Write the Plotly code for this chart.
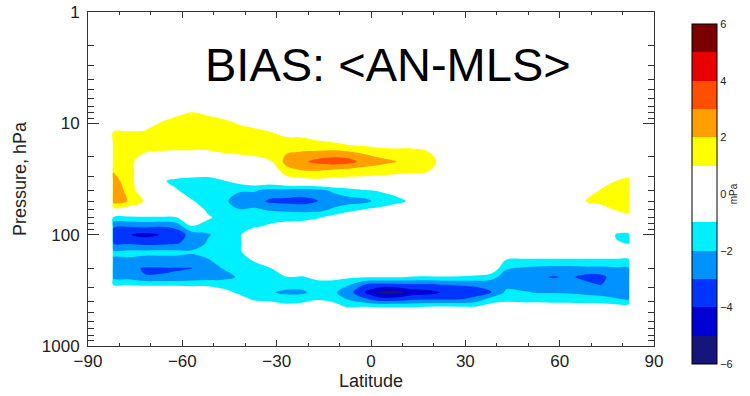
import numpy as np
import plotly.graph_objects as go

# ---------------- data ----------------
latitudes = [-82, -77, -72, -67, -62, -57, -52, -47, -42, -37, -32, -27, -22, -17, -12, -7,
             -2, 3, 8, 13, 18, 23, 28, 33, 38, 43, 48, 53, 58, 63, 68, 73, 78, 82]
pressures = [6, 7, 8, 10, 12, 15, 18, 22, 27, 33, 40, 50, 60, 70, 85, 100, 120, 140, 170,
             200, 240, 280, 330, 380, 440, 500]

# one vertical profile (mPa) per latitude, from 6 hPa down to 500 hPa
bias_profiles = [
    [0, 0, 0, 0, 1.1, 1.5, 1.5, 1.6, 1.95, 2.4, 2.6, 2.4, 0.5, -1.1, -2.9, -3.6, -3.0, -1.9, -2.05, -2.6, -2.3, -1.1, 0, 0, 0, 0],
    [0, 0, 0, 0, 1.1, 1.5, 1.5, 1.5, 1.5, 1.5, 1.7, 1.95, 0.3, -1.2, -3.0, -3.95, -3.1, -1.9, -2.05, -2.7, -2.4, -1.1, 0, 0, 0, 0],
    [0, 0, 0, 0.2, 1.2, 1.5, 1.1, 0, 0, 0, 0, 0.9, 0, -1.1, -2.9, -4.3, -3.3, -1.9, -2.1, -3.1, -2.95, -1.2, 0, 0, 0, 0],
    [0, 0, 0, 1.1, 1.5, 1.5, 0.95, 0, 0, -0.8, 0, 0, 0, -1.1, -3.0, -3.98, -3.2, -1.9, -2.1, -3.1, -2.95, -1.2, 0, 0, 0, 0],
    [0, 0, 0.7, 1.5, 1.5, 1.5, 0.9, 0, 0, -1.3, -0.9, 0, 0, -1.05, -2.7, -3.8, -3.1, -1.9, -2.1, -3.05, -2.9, -1.2, 0, 0, 0, 0],
    [0, 0, 1.05, 1.5, 1.5, 1.5, 0.9, 0, -0.3, -1.4, -1.5, -0.9, 0, 0, -1.1, -2.5, -2.6, -1.95, -2.1, -3.02, -2.6, -1.3, 0, 0, 0, 0],
    [0, 0, 0.8, 1.5, 1.5, 1.5, 0.9, 0, -0.3, -1.5, -1.5, -1.5, -1.2, -0.8, -1.5, -2.1, -1.9, -1.6, -2.1, -2.6, -2.5, -1.3, 0, 0, 0, 0],
    [0, 0, 0.4, 1.4, 1.5, 1.5, 1.1, 0, 0, -1.1, -1.6, -1.8, -1.5, -1.5, -1.5, -1.6, -1.5, -1.5, -1.6, -1.95, -2.3, -1.5, -0.6, 0, 0, 0],
    [0, 0, 0, 0.9, 1.5, 1.5, 1.3, 0.2, 0, -0.6, -1.9, -2.4, -1.95, -1.5, -1.4, -1.2, -1.2, -1.2, -1.4, -1.8, -1.9, -1.5, -1.2, -0.5, 0, 0],
    [0, 0, 0, 0.5, 1.4, 1.5, 1.4, 0.5, 0, -0.2, -1.9, -2.6, -1.8, -1.2, -1.05, 0, 0, 0, -0.9, -1.4, -1.5, -1.6, -1.7, -1.2, 0, 0],
    [0, 0, 0, 0.2, 1.05, 1.5, 1.6, 0.9, 0, -0.2, -2.3, -3.2, -2.1, -1.2, -0.9, 0, 0, 0, 0, -1.05, -1.5, -1.8, -1.9, -1.3, -0.4, 0],
    [0, 0, 0, 0, 0.6, 1.5, 1.9, 2.3, 1.6, 0.3, -2.3, -3.3, -2.2, -1.4, -0.5, 0, 0, 0, 0, 0, -1.05, -1.6, -2.2, -1.5, -0.7, 0],
    [0, 0, 0, 0, 0.5, 1.5, 2.02, 2.8, 1.9, 0.6, -2.4, -3.4, -2.3, -1.3, -0.5, 0, 0, 0, 0, 0, -1.1, -1.6, -2.2, -1.4, -0.6, 0],
    [0, 0, 0, 0, 0.3, 1.2, 2.1, 3.3, 1.9, 0.7, -2.3, -3.05, -2.3, -1.1, -0.3, 0, 0, 0, 0, 0, -0.7, -1.4, -1.6, -1.1, -0.3, 0],
    [0, 0, 0, 0, 0.2, 1.05, 2.2, 3.6, 1.6, 0.7, -1.8, -2.6, -1.8, -0.6, 0, 0, 0, 0, 0, 0, -0.6, -1.5, -1.8, -1.3, -0.6, 0],
    [0, 0, 0, 0, 0, 0.7, 2.05, 3.4, 1.5, 0.6, -1.4, -2.4, -1.3, 0, 0, 0, 0, 0, 0, 0, -0.8, -1.9, -2.6, -2.1, -1.2, 0],
    [0, 0, 0, 0, 0, 0.6, 1.8, 2.6, 1.5, 0.5, -1.05, -2.3, -0.9, 0, 0, 0, 0, 0, 0, 0, -0.9, -3.0, -4.05, -2.8, -1.1, 0],
    [0, 0, 0, 0, 0, 0.4, 1.5, 2.3, 1.4, 0.4, -0.9, -1.6, -0.7, 0, 0, 0, 0, 0, 0, 0, -0.9, -3.3, -5.3, -3.6, -1.2, 0],
    [0, 0, 0, 0, 0, 0.3, 1.4, 2.05, 1.3, 0.3, -0.6, -1.3, -0.3, 0, 0, 0, 0, 0, 0, 0, -0.9, -3.2, -5.5, -3.5, -1.2, 0],
    [0, 0, 0, 0, 0, 0.3, 1.4, 1.5, 1.2, 0.2, 0, -0.8, 0, 0, 0, 0, 0, 0, 0, 0, -1.05, -3.1, -4.6, -3.2, -1.2, 0],
    [0, 0, 0, 0, 0, 0, 1.05, 1.5, 1.05, 0, 0, 0, 0, 0, 0, 0, 0, 0, 0, 0, -1.1, -3.1, -4.4, -3.1, -1.1, 0],
    [0, 0, 0, 0, 0, 0, 0.3, 0.6, 0.3, 0, 0, 0, 0, 0, 0, 0, 0, 0, 0, 0, -1.05, -2.95, -3.9, -3.1, -1.05, 0],
    [0, 0, 0, 0, 0, 0, 0, 0, 0, 0, 0, 0, 0, 0, 0, 0, 0, 0, 0, 0, -1.1, -2.9, -3.7, -3.05, -1.1, 0],
    [0, 0, 0, 0, 0, 0, 0, 0, 0, 0, 0, 0, 0, 0, 0, 0, 0, 0, 0, 0, -1.2, -2.8, -3.5, -2.7, -1.1, 0],
    [0, 0, 0, 0, 0, 0, 0, 0, 0, 0, 0, 0, 0, 0, 0, 0, 0, 0, 0, 0, -1.6, -2.6, -3.1, -1.6, -0.6, 0],
    [0, 0, 0, 0, 0, 0, 0, 0, 0, 0, 0, 0, 0, 0, 0, 0, 0, 0, -1.1, -1.9, -2.5, -2.3, -1.8, -1.3, -0.5, 0],
    [0, 0, 0, 0, 0, 0, 0, 0, 0, 0, 0, 0, 0, 0, 0, 0, 0, 0, -1.2, -2.1, -2.6, -2.4, -1.9, -1.4, -0.5, 0],
    [0, 0, 0, 0, 0, 0, 0, 0, 0, 0, 0, 0, 0, 0, 0, 0, 0, 0, -1.2, -2.2, -2.8, -2.5, -2.05, -1.4, -0.5, 0],
    [0, 0, 0, 0, 0, 0, 0, 0, 0, 0, 0, 0, 0, 0, 0, 0, 0, 0, -1.2, -2.3, -3.1, -2.5, -2.05, -1.5, -0.5, 0],
    [0, 0, 0, 0, 0, 0, 0, 0, 0, 0, 0, 0, 0, 0, 0, 0, 0, 0, -1.2, -2.3, -2.8, -2.5, -2.1, -1.5, -0.5, 0],
    [0, 0, 0, 0, 0, 0, 0, 0, 0, 0, 0.7, 0.98, 0, 0, 0, 0, 0, 0, -1.2, -2.2, -3.3, -2.7, -2.2, -1.6, -0.5, 0],
    [0, 0, 0, 0, 0, 0, 0, 0, 0, 0.3, 1.05, 1.3, 0.5, 0, 0, 0, 0, 0, -1.2, -2.2, -3.3, -3.05, -2.3, -1.7, -0.5, 0],
    [0, 0, 0, 0, 0, 0, 0, 0, 0, 1.02, 1.4, 1.5, 1.05, 0, 0, -1.1, -0.9, 0, -1.2, -2.1, -2.5, -2.5, -2.3, -1.95, -0.6, 0],
    [0, 0, 0, 0, 0, 0, 0, 0, 0.4, 1.3, 1.5, 1.5, 1.3, 0.6, 0, -1.2, -1.0, 0, -1.2, -2.1, -2.5, -2.5, -2.4, -2.05, -0.6, 0],
]

# "no data" margin around the analysed region (value 0 = white band)
pad_lat_left, pad_lat_right = [-90, -82.3], [82.3, 90]
pad_p_top, pad_p_bottom = [1], [1000]

contour_levels = dict(start=-6, end=6, size=1)
colorbar_ticks = [-6, -4, -2, 0, 2, 4, 6]
x_ticks = [-90, -60, -30, 0, 30, 60, 90]
y_ticks = [1, 10, 100, 1000]
y_minor = [2, 3, 4, 5, 6, 7, 8, 9, 20, 30, 40, 50, 60, 70, 80, 90, 200, 300, 400, 500, 600, 700, 800, 900]

# colours of: below -6 (unused), [-6,-5], ..., [5,6], above 6
band_colors = ['#ffffff', '#000070', '#0000d4', '#0034ff', '#0092ff', '#00f0ff',
               '#ffffff', '#ffffff', '#ffff00', '#ffa000', '#ff4e00', '#e80000',
               '#7a0000', '#7a0000']

# ---------------- figure ----------------
z = np.array(bias_profiles, dtype=float).T  # rows = pressure, cols = latitude
z = np.pad(z, ((len(pad_p_top), len(pad_p_bottom)), (len(pad_lat_left), len(pad_lat_right))),
           constant_values=0.0)
x_all = pad_lat_left + latitudes + pad_lat_right
y_all = pad_p_top + pressures + pad_p_bottom

n = len(band_colors) - 1
colorscale = []
for k, c in enumerate(band_colors):
    colorscale.append([max(0.0, (k - 0.45) / n), c])
    colorscale.append([min(1.0, (k + 0.45) / n), c])

FONT = "Liberation Sans, Arial, Helvetica, sans-serif"
L, R, T, B = 88, 654, 12, 346
W, H = 750, 396

fig = go.Figure()
fig.add_trace(go.Contour(
    x=x_all, y=y_all, z=z,
    zmin=-6, zmax=6, autocontour=False,
    contours=dict(coloring="fill", showlines=False, **contour_levels),
    line=dict(width=0),
    colorscale=colorscale,
    hoverinfo="skip",
    colorbar=dict(
        thickness=25, thicknessmode="pixels",
        len=340, lenmode="pixels",
        x=(692 - L) / (R - L), xanchor="left", xpad=0,
        y=1 - (24 - T) / (B - T), yanchor="top", ypad=0,
        outlinecolor="black", outlinewidth=1,
        tickvals=colorbar_ticks, ticks="",
        tickfont=dict(family=FONT, size=11, color="#222"),
        title=dict(text="mPa", side="right", font=dict(family=FONT, size=10, color="#222")),
    ),
))

axis_common = dict(showline=True, linecolor="#333", linewidth=1, mirror="ticks",
                   ticks="inside", tickcolor="#333", showgrid=False, zeroline=False,
                   tickfont=dict(family=FONT, size=17, color="#222"))

fig.update_xaxes(range=[-90, 90], tickvals=x_ticks, ticklen=6,
                 minor=dict(dtick=10, tick0=-90, ticks="inside", ticklen=3, tickcolor="#333"),
                 title=dict(text="Latitude", font=dict(family=FONT, size=18, color="#222"), standoff=2),
                 **axis_common)
fig.update_yaxes(type="log", range=[3, 0], tickvals=y_ticks, ticktext=[str(v) for v in y_ticks],
                 ticklen=11, ticklabelstandoff=4,
                 minor=dict(tickvals=y_minor, ticks="inside", ticklen=6, tickcolor="#333"),
                 title=dict(text="Pressure, hPa", font=dict(family=FONT, size=18, color="#222"), standoff=10),
                 **axis_common)

fig.add_annotation(text="BIAS: &lt;AN-MLS&gt;", x=(388 - L) / (R - L), y=1 - (64 - T) / (B - T),
                   xref="paper", yref="paper", xanchor="center", yanchor="middle",
                   showarrow=False, font=dict(family=FONT, size=47, color="black"))

fig.update_layout(width=W, height=H, autosize=False,
                  margin=dict(l=L, r=W - R, t=T, b=H - B, autoexpand=False),
                  paper_bgcolor="white", plot_bgcolor="white",
                  showlegend=False, hovermode=False)

fig.write_html("out.html", config={"displayModeBar": False, "staticPlot": True},
               post_script="document.body.style.margin='0';document.body.style.overflow='hidden';")
